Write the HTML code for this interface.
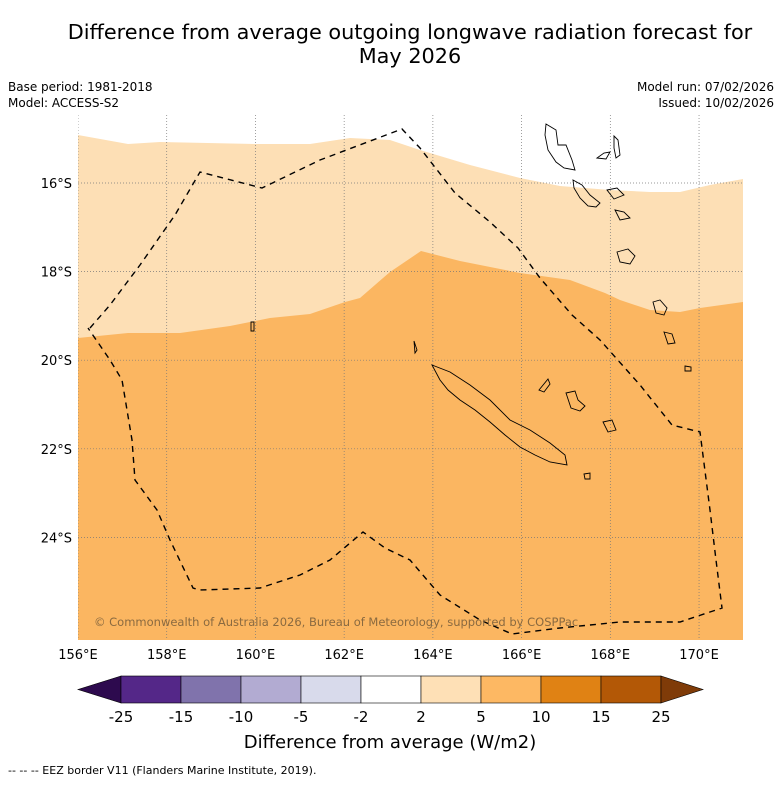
<!DOCTYPE html>
<html><head><meta charset="utf-8"><style>
body{margin:0;background:#fff;font-family:"Liberation Sans","DejaVu Sans",sans-serif}
svg text{font-family:"DejaVu Sans","Liberation Sans",sans-serif}
</style></head><body>
<svg width="781" height="781" viewBox="0 0 781 781" xmlns="http://www.w3.org/2000/svg">
<text x="410" y="39" font-size="20.8" text-anchor="middle">Difference from average outgoing longwave radiation forecast for</text>
<text x="410" y="63" font-size="20.8" text-anchor="middle">May 2026</text>
<text x="8" y="91" font-size="12">Base period: 1981-2018</text>
<text x="8" y="107" font-size="12">Model: ACCESS-S2</text>
<text x="774" y="91" font-size="12" text-anchor="end">Model run: 07/02/2026</text>
<text x="774" y="107" font-size="12" text-anchor="end">Issued: 10/02/2026</text>
<defs><clipPath id="mc"><rect x="78" y="115" width="665" height="525"/></clipPath></defs>
<g id="map" clip-path="url(#mc)"></g>
<g id="axes"></g>
<g id="cbar"></g>
<text x="390" y="748" font-size="18" text-anchor="middle">Difference from average (W/m2)</text>
<text x="8" y="774" font-size="11">--  --  -- EEZ border V11 (Flanders Marine Institute, 2019).</text>
</svg>
<script>
const lonTicks=[156,158,160,162,164,166,168,170];
const latTicks=[16,18,20,22,24];
const levels=[-25,-15,-10,-5,-2,2,5,10,15,25];
const colors=["#2d0a4e","#542788","#8073ac","#b2abd2","#d8daeb","#ffffff","#fee0b6","#fdb863","#e08214","#b35806","#7f3b08"];
const NS="http://www.w3.org/2000/svg";
const xs=lon=>78+(lon-156)*44.36, ys=lat=>183+(lat-16)*44.3;
function mk(t,a,p){const e=document.createElementNS(NS,t);for(const k in a)e.setAttribute(k,a[k]);(p||document.getElementById('map')).appendChild(e);return e;}
const topEdge=[[78,135],[128,144],[160,142],[255,144],[310,144],[350,138],[390,140],[420,150],[470,165],[520,178],[560,186],[610,190],[650,192],[680,192],[710,185],[743,179]];
const midEdge=[[78,338],[128,333],[180,333],[230,326],[270,318],[310,314],[345,302],[360,298],[390,272],[421,251],[460,261],[520,273],[570,280],[605,293],[620,300],[650,310],[680,312],[700,308],[743,302]];
const pts=a=>a.map(p=>p.join(',')).join(' ');
let e=mk('rect',{x:78,y:115,width:665,height:525,fill:'#fff'});

e=mk('polygon',{points:pts(topEdge)+' 743,640 78,640',fill:'#fddfb5'});

e=mk('polygon',{points:pts(midEdge)+' 743,640 78,640',fill:'#fbb661'});

lonTicks.forEach(l=>{const g=mk('line',{x1:xs(l),x2:xs(l),y1:115,y2:640,stroke:'#777','stroke-width':0.7,'stroke-dasharray':'1,2'});});
latTicks.forEach(l=>{const g=mk('line',{x1:78,x2:743,y1:ys(l),y2:ys(l),stroke:'#777','stroke-width':0.7,'stroke-dasharray':'1,2'});});
const isl=[
"432,365 450,372 470,385 490,400 510,420 530,430 550,443 565,455 567,465 550,462 535,455 520,447 505,435 490,422 475,410 460,400 448,390 440,380",
"546,124 556,130 558,145 566,145 572,160 575,170 564,168 556,162 548,150 545,135",
"597,158 604,153 610,152 606,159",
"614,136 618,140 620,155 616,158 614,148",
"573,180 582,185 590,195 600,203 596,207 588,206 580,198 574,188",
"607,190 617,188 624,195 614,199",
"615,210 624,212 630,218 620,220",
"617,252 628,249 635,256 630,264 620,262",
"653,302 660,300 667,308 664,315 656,313",
"664,332 672,334 675,343 668,344",
"685,366 691,367 691,371 685,371",
"539,390 548,379 550,384 544,392",
"566,393 575,391 578,400 585,406 580,411 571,408",
"603,422 612,420 616,430 608,432",
"584,474 590,473 590,479 585,479",
"414,341 417,350 415,353",
"251,322 254,322 254,331 251,331"];
isl.forEach(p=>{const g=mk('polygon',{points:p,fill:'none',stroke:'#000','stroke-width':0.9});});
const eez=[[90,328],[110,305],[140,265],[175,215],[200,172],[262,188],[320,160],[402,129],[420,148],[455,193],[490,222],[518,248],[540,278],[572,315],[600,340],[640,385],[672,425],[700,432],[710,510],[716,560],[722,608],[680,622],[620,622],[560,628],[512,634],[480,620],[440,595],[410,560],[385,548],[363,532],[330,560],[300,575],[260,588],[200,590],[193,588],[170,540],[157,510],[135,480],[132,440],[127,410],[122,380],[110,360],[88,328]];
e=mk('polyline',{points:pts(eez),fill:'none',stroke:'#000','stroke-width':1.4,'stroke-dasharray':'6,5'});

e=mk('text',{x:94,y:626,'font-size':11.5,fill:'#8a6a40'});e.textContent='© Commonwealth of Australia 2026, Bureau of Meteorology, supported by COSPPac';

const ax=document.getElementById('axes');
lonTicks.forEach(l=>{const t=mk('text',{x:xs(l),y:659,'font-size':13,'text-anchor':'middle'},ax);t.textContent=l+'°E';});
latTicks.forEach(l=>{const t=mk('text',{x:72,y:ys(l)+5,'font-size':13,'text-anchor':'end'},ax);t.textContent=l+'°S';});
const cb=document.getElementById('cbar');const bx=121,bw=60,by=676,bh=27;
e=mk('polygon',{points:`${bx},${by} 78,${by+bh/2} ${bx},${by+bh}`,fill:colors[0],stroke:'#000','stroke-width':0.6},cb);

for(let i=0;i<levels.length-1;i++){const r=mk('rect',{x:bx+i*bw,y:by,width:bw,height:bh,fill:colors[i+1],stroke:'#000','stroke-width':0.6},cb);
}
const ex=bx+(levels.length-1)*bw;
e=mk('polygon',{points:`${ex},${by} ${ex+42},${by+bh/2} ${ex},${by+bh}`,fill:colors[10],stroke:'#000','stroke-width':0.6},cb);

levels.forEach((v,i)=>{const t=mk('text',{x:bx+i*bw,y:722,'font-size':15,'text-anchor':'middle'},cb);t.textContent=v;});
</script>
</body></html>
